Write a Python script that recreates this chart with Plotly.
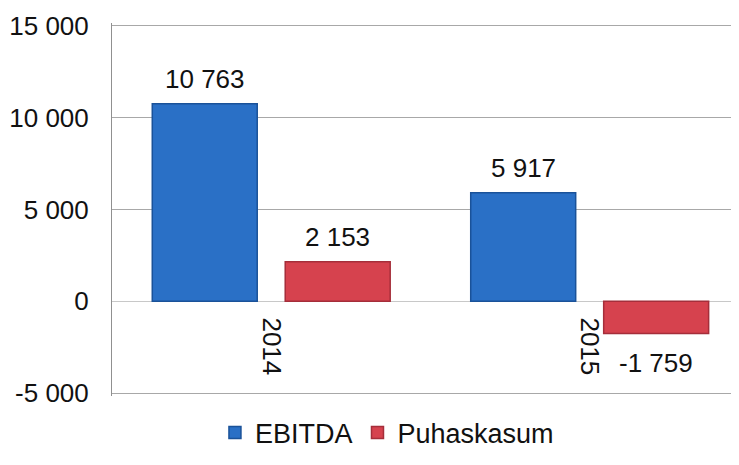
import plotly.graph_objects as go

categories = ["2014", "2015"]
ebitda = [10763, 5917]
puhaskasum = [2153, -1759]
series_names = ["EBITDA", "Puhaskasum"]
ytick_vals = [-5000, 0, 5000, 10000, 15000]
ytick_text = ["-5 000", "0", "5 000", "10 000", "15 000"]

FONT = "Liberation Sans, Arial, sans-serif"
FS = 26

fig = go.Figure()
fig.add_trace(go.Bar(
    x=categories, y=ebitda, name=series_names[0],
    marker=dict(color="#2A70C6", line=dict(color="#1A5299", width=1.5)),
))
fig.add_trace(go.Bar(
    x=categories, y=puhaskasum, name=series_names[1],
    marker=dict(color="#D6424E", line=dict(color="#A52E3A", width=1.5)),
))

# value labels attached to data coordinates
slot_px = 66.5
for vals, sign in ((ebitda, -1), (puhaskasum, 1)):
    for i, v in enumerate(vals):
        fig.add_annotation(
            x=i, y=v, xref="x", yref="y", xshift=sign * slot_px,
            text=f"{v:,}".replace(",", " "), showarrow=False,
            yanchor="bottom" if v >= 0 else "top",
            yshift=8 if v >= 0 else -12,
            font=dict(size=FS, family=FONT, color="#111111"),
        )

fig.update_layout(
    width=739, height=465,
    margin=dict(l=104, r=0, t=15, b=77, autoexpand=False),
    paper_bgcolor="white", plot_bgcolor="white",
    separators=". ",
    barmode="group", bargap=0.165, bargroupgap=0.2105,
    font=dict(family=FONT, size=FS, color="#111111"),
    showlegend=True,
    legend=dict(orientation="h", x=0.433, xanchor="center", y=-0.0992, yanchor="middle",
                font=dict(size=27, family=FONT), itemwidth=30, traceorder="normal"),
    xaxis=dict(
        type="category", range=[-0.5, 1.494],
        anchor="free", position=0.254, automargin=False,
        showline=False, showgrid=False, zeroline=False,
        tickangle=90, ticks="outside", ticklen=10, tickcolor="rgba(0,0,0,0)",
        tickfont=dict(size=FS, family=FONT, color="#111111"),
    ),
    yaxis=dict(
        range=[-5163, 15163], tickvals=ytick_vals, ticktext=ytick_text,
        automargin=False,
        showgrid=True, gridcolor="#A8A8A8", gridwidth=1,
        zeroline=True, zerolinecolor="#C8C8C8", zerolinewidth=1,
        showline=True, linecolor="#909090", linewidth=1,
        ticks="outside", ticklen=17, tickcolor="rgba(0,0,0,0)",
        tickfont=dict(size=FS, family=FONT, color="#111111"),
    ),
)

fig.write_html("out.html")
